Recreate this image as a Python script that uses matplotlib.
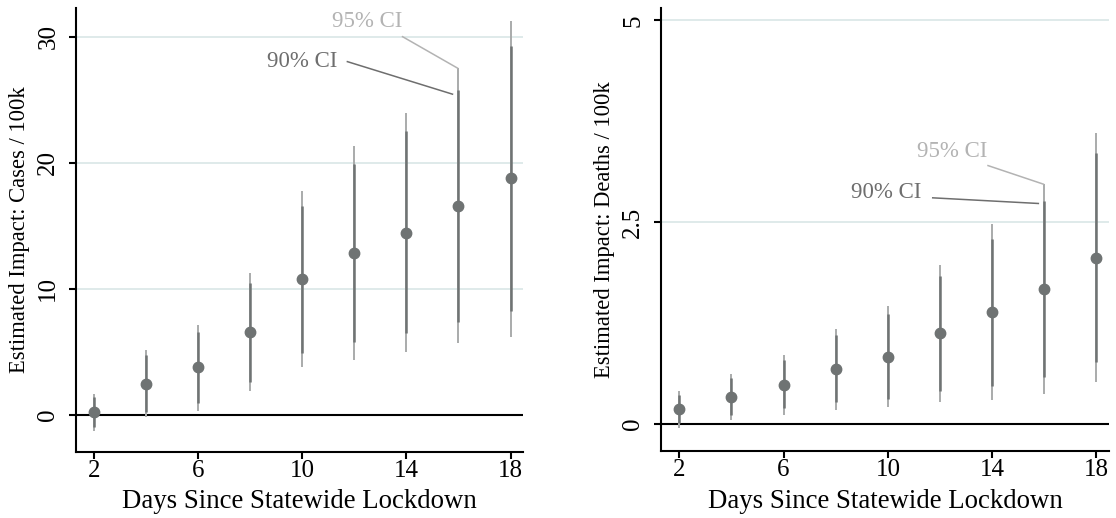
import numpy as np
import matplotlib
matplotlib.use('Agg')
import matplotlib.pyplot as plt

plt.rcParams['font.family'] = ['Liberation Serif', 'DejaVu Serif']

# Days since statewide lockdown
days = [2, 4, 6, 8, 10, 12, 14, 16, 18]

# Cases / 100k: point estimates and confidence bounds
cases_est = [0.26, 2.49, 3.78, 6.59, 10.77, 12.86, 14.47, 16.56, 18.78]
cases_lo95 = [-1.24, -0.18, 0.34, 1.93, 3.84, 4.37, 5.03, 5.69, 6.22]
cases_hi95 = [1.64, 5.16, 7.14, 11.24, 17.78, 21.3, 23.94, 27.51, 31.27]
cases_lo90 = [-0.98, 0.26, 0.93, 2.64, 4.95, 5.82, 6.53, 7.41, 8.28]
cases_hi90 = [1.4, 4.76, 6.61, 10.5, 16.59, 19.92, 22.49, 25.74, 29.29]

# Deaths / 100k: point estimates and confidence bounds
deaths_est = [0.18, 0.33, 0.48, 0.68, 0.82, 1.12, 1.38, 1.67, 2.06]
deaths_lo95 = [-0.05, 0.04, 0.11, 0.17, 0.20, 0.27, 0.29, 0.37, 0.51]
deaths_hi95 = [0.41, 0.62, 0.85, 1.175, 1.46, 1.97, 2.47, 2.97, 3.60]
deaths_lo90 = [0.01, 0.11, 0.19, 0.27, 0.30, 0.41, 0.47, 0.58, 0.76]
deaths_hi90 = [0.36, 0.56, 0.79, 1.10, 1.36, 1.83, 2.29, 2.76, 3.35]

DARK = '#6f7373'
LIGHT = '#a9abab'
GRID = '#dfeaea'


def panel(ax, est, lo95, hi95, lo90, hi90, yticks, yticklabels, ylim, ylabel, ann):
    for y in yticks[1:]:
        ax.axhline(y, color=GRID, lw=1.4, zorder=0)
    ax.axhline(0, color='black', lw=1.5, zorder=1)
    ax.vlines(days, lo95, hi95, color=LIGHT, lw=1.4, zorder=2)
    ax.vlines(days, lo90, hi90, color=DARK, lw=1.8, zorder=3)
    ax.plot(days, est, 'o', color=DARK, ms=7.5, zorder=4)

    ax.set_xlim(1.3, 18.47)
    ax.set_ylim(*ylim)
    ax.set_xticks([2, 6, 10, 14, 18])
    ax.set_yticks(yticks)
    ax.set_yticklabels(yticklabels, rotation=90, va='center')
    ax.tick_params(axis='both', labelsize=18, width=1.5, length=5)
    ax.tick_params(axis='x', pad=1)
    ax.tick_params(axis='y', pad=7)
    for s in ['top', 'right']:
        ax.spines[s].set_visible(False)
    for s in ['left', 'bottom']:
        ax.spines[s].set_linewidth(1.5)

    ax.set_xlabel('Days Since Statewide Lockdown', fontsize=19.3)
    ax.xaxis.set_label_coords(0.5, -0.085)
    ax.set_ylabel(ylabel, fontsize=16.3, va='center')
    ax.yaxis.set_label_coords(-0.127, 0.5)

    # CI callouts pointing at the day-16 interval
    i = days.index(16)
    t95, s95, t90, s90, dy = ann
    ax.text(t95[0], t95[1], '95% CI', color='#b3b3b3', fontsize=16.5,
            ha='right', va='center')
    ax.plot([s95[0], days[i] - 0.04], [s95[1], hi95[i]], color='#b3b3b3', lw=1.1)
    ax.text(t90[0], t90[1], '90% CI', color='#6e6e6e', fontsize=16.5,
            ha='right', va='center')
    ax.plot([s90[0], days[i] - 0.23], [s90[1], hi90[i] - dy], color='#6e6e6e', lw=1.1)


fig = plt.figure(figsize=(11.16, 5.18), dpi=100)
ax1 = fig.add_axes([0.0681, 0.128, 0.4003, 0.856])
ax2 = fig.add_axes([0.5923, 0.1293, 0.4012, 0.8546])

panel(ax1, cases_est, cases_lo95, cases_hi95, cases_lo90, cases_hi90,
      [0, 10, 20, 30], ['0', '10', '20', '30'], (-2.91, 32.25),
      'Estimated Impact: Cases / 100k',
      ((13.85, 31.2), (13.85, 30.0), (11.35, 28.0), (11.73, 28.02), 0.3))
panel(ax2, deaths_est, deaths_lo95, deaths_hi95, deaths_lo90, deaths_hi90,
      [0, 2.5, 5], ['0', '2.5', '5'], (-0.34, 5.15),
      'Estimated Impact: Deaths / 100k',
      ((13.8, 3.37), (13.84, 3.20), (11.30, 2.87), (11.72, 2.80), 0.03))

fig.savefig('out.png', dpi=100)
